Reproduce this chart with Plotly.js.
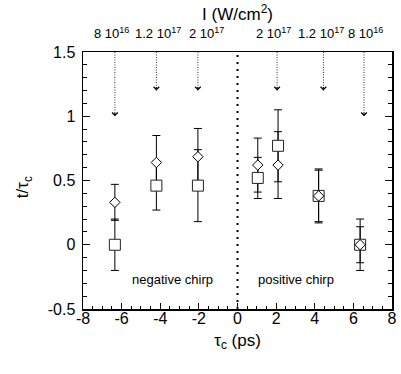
<!DOCTYPE html>
<html>
<head>
<meta charset="utf-8">
<script src="https://cdn.plot.ly/plotly-3.0.1.min.js"></script>
<style>html,body{margin:0;padding:0;background:#fff;}#chart{width:401px;height:374px;}</style>
</head>
<body>
<div id="chart"></div>
<script>
// ---- data ----
const tauC       = [-6.35, -4.2, -2.05, 1.05, 2.1, 4.2, 6.35];
const squareY    = [0.0, 0.46, 0.46, 0.52, 0.77, 0.38, 0.0];
const squareErr  = [0.20, 0.19, 0.28, 0.16, 0.28, 0.20, 0.20];
const diamondY   = [0.33, 0.64, 0.685, 0.62, 0.62, 0.38, 0.0];
const diamondErr = [0.14, 0.21, 0.22, 0.21, 0.26, 0.21, 0.14];

const arrowX     = [-6.35, -4.2, -2.05, 2.05, 4.45, 6.55];
const arrowTip   = [1.0, 1.2, 1.2, 1.2, 1.2, 1.0];
const arrowTop   = 1.5;
const intensityX = [-6.55, -4.13, -1.6, 1.88, 4.33, 6.62];
const intensityLabels = ['8 10<sup>16</sup>', '1.2 10<sup>17</sup>', '2 10<sup>17</sup>',
                         '2 10<sup>17</sup>', '1.2 10<sup>17</sup>', '8 10<sup>16</sup>'];

const xTickVals = [-8, -6, -4, -2, 0, 2, 4, 6, 8];
const xTickText = ['-8', '-6', '-4', '-2', '0', '2', '4', '6', '8'];
const yTickVals = [-0.5, 0, 0.5, 1, 1.5];
const yTickText = ['-0.5', '0', '0.5', '1', '1.5'];

const regionLabels = [
  {text: 'negative chirp', x: -3.35, y: -0.27},
  {text: 'positive chirp', x: 3.05, y: -0.27}
];

// ---- build ----
const FONT = 'Liberation Sans, Arial, Helvetica, sans-serif';
const arrowLineX = [], arrowLineY = [];
arrowX.forEach((x, i) => { arrowLineX.push(x, x, null); arrowLineY.push(arrowTop, arrowTip[i], null); });

const traces = [
  {x: arrowLineX, y: arrowLineY, mode: 'lines', line: {color: '#333', width: 1, dash: '1px,1.5px'},
   hoverinfo: 'skip', showlegend: false, cliponaxis: false},
  {x: tauC, y: squareY, mode: 'markers', marker: {size: 1, opacity: 0},
   error_y: {type: 'data', array: squareErr, visible: true, color: '#000', thickness: 1, width: 4},
   showlegend: false},
  {x: tauC, y: diamondY, mode: 'markers', marker: {size: 1, opacity: 0},
   error_y: {type: 'data', array: diamondErr, visible: true, color: '#000', thickness: 1, width: 4},
   showlegend: false},
  {x: tauC, y: squareY, mode: 'markers',
   marker: {symbol: 'square', size: 11, color: '#fff', line: {color: '#222', width: 1}}, showlegend: false},
  {x: tauC, y: diamondY, mode: 'markers',
   marker: {symbol: 'diamond', size: 8, color: '#fff', line: {color: '#000', width: 1}}, showlegend: false}
];

const annotations = [];
arrowX.forEach((x, i) => {
  annotations.push({x: x, y: arrowTip[i], xref: 'x', yref: 'y', text: '', showarrow: true,
    ax: 0, ay: -5, arrowhead: 4, arrowsize: 1.1, arrowwidth: 1, arrowcolor: '#000', standoff: 0});
});
intensityX.forEach((x, i) => {
  annotations.push({x: x, y: 1.074, xref: 'x', yref: 'paper', text: intensityLabels[i], showarrow: false,
    xanchor: 'center', yanchor: 'middle', font: {family: FONT, size: 13, color: '#000'}});
});
regionLabels.forEach(r => {
  annotations.push({x: r.x, y: r.y, xref: 'x', yref: 'y', text: r.text, showarrow: false,
    xanchor: 'center', yanchor: 'middle', font: {family: FONT, size: 13, color: '#000'}});
});
// y-axis title
annotations.push({x: -0.19, y: 0.475, xref: 'paper', yref: 'paper', text: 't/τ<sub>c</sub>',
  textangle: -90, showarrow: false, xanchor: 'center', yanchor: 'middle',
  font: {family: FONT, size: 17, color: '#000'}});

const layout = {
  width: 401, height: 374,
  margin: {l: 83, r: 9, t: 52, b: 65},
  paper_bgcolor: '#fff', plot_bgcolor: '#fff',
  font: {family: FONT, size: 16, color: '#000'},
  title: {text: 'I (W/cm<sup>2</sup>)', x: 0.5, xref: 'paper', xanchor: 'center',
          y: 0.962, yref: 'container', yanchor: 'middle', font: {family: FONT, size: 17, color: '#000'}},
  xaxis: {range: [-8, 8], tickvals: xTickVals, ticktext: xTickText, ticks: 'inside', ticklen: 6,
          tickcolor: '#000', tickwidth: 1, showline: true, linecolor: '#000', linewidth: 1.5, mirror: true,
          showgrid: false, zeroline: false, ticklabelstandoff: -6,
          minor: {dtick: 0.5, ticks: 'inside', ticklen: 3, tickcolor: '#000', tickwidth: 1, showgrid: false},
          title: {text: 'τ<sub>c</sub> (ps)', font: {family: FONT, size: 17, color: '#000'}, standoff: 8},
          tickfont: {family: FONT, size: 16, color: '#000'}},
  yaxis: {range: [-0.5, 1.5], tickvals: yTickVals, ticktext: yTickText, ticks: 'inside', ticklen: 7,
          tickcolor: '#000', tickwidth: 1, showline: true, linecolor: '#000', linewidth: 1.5, mirror: 'ticks',
          showgrid: false, zeroline: false, ticklabelstandoff: 3,
          minor: {dtick: 0.1, ticks: 'inside', ticklen: 4, tickcolor: '#000', tickwidth: 1, showgrid: false},
          tickfont: {family: FONT, size: 16, color: '#000'}},
  shapes: [{type: 'line', xref: 'x', yref: 'y', x0: 0, x1: 0, y0: -0.5, y1: 1.5,
            line: {color: '#000', width: 2, dash: '2px,5px'}}],
  annotations: annotations
};

Plotly.newPlot('chart', traces, layout, {displayModeBar: false, staticPlot: true});
</script>
</body>
</html>
